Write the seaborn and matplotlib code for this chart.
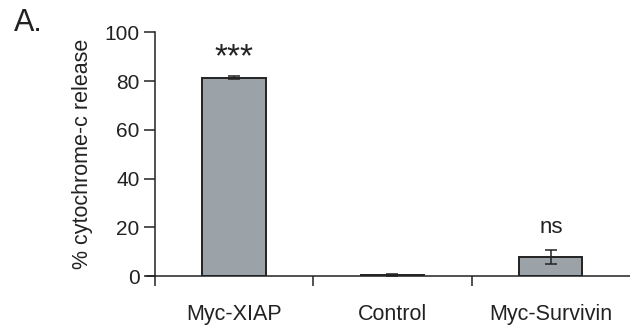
import matplotlib
matplotlib.use("Agg")
import matplotlib.pyplot as plt
import seaborn as sns
import pandas as pd

categories = ["Myc-XIAP", "Control", "Myc-Survivin"]
values = [81.4, 0.5, 7.8]
errors = [0.6, 0.5, 2.8]
annotations = ["***", "", "ns"]
annotation_y = [89.5, 0, 20.0]
yticks = [0, 20, 40, 60, 80, 100]

sns.set_style("ticks")
plt.rcParams["font.family"] = ["Liberation Sans", "DejaVu Sans"]

df = pd.DataFrame({"cat": categories, "val": values, "err": errors})

fig = plt.figure(figsize=(6.3, 3.3), dpi=100)
ax = fig.add_axes([0.246, 0.1636, 0.754, 0.7384])

sns.barplot(data=df, x="cat", y="val", ax=ax, color="#9ca3a8",
            edgecolor="#222222", linewidth=1.4, width=0.4, saturation=1,
            errorbar=None)
xs = list(range(len(categories)))
ax.errorbar(xs, df["val"], yerr=df["err"], fmt="none", ecolor="#222222",
            elinewidth=1.1, capsize=4, capthick=1.1)
for x, a, ay in zip(xs, annotations, annotation_y):
    if a:
        ax.text(x, ay, a, ha="center", va="center",
                fontsize=16 if a == "ns" else 24, color="#222222")

ax.set_xlim(-0.5, 2.5)
ax.set_ylim(0, 100)
ax.set_yticks(yticks)
ax.set_yticklabels([str(t) for t in yticks], fontsize=15, color="#222222")
ax.set_xticks([-0.5, 0.5, 1.5])
ax.set_xticklabels(["", "", ""])
ax.set_xticks(xs, minor=True)
ax.set_xticklabels(categories, minor=True, fontsize=15.5, color="#222222")
ax.tick_params(axis="x", which="minor", length=0, pad=20)
ax.tick_params(axis="x", which="major", length=7, width=1.1, color="#222222")
ax.tick_params(axis="y", length=8, width=1.1, color="#222222", pad=3)
ax.set_xlabel("")
ax.set_ylabel("% cytochrome-c release", fontsize=15.5, color="#222222", labelpad=8)
for s in ["top", "right"]:
    ax.spines[s].set_visible(False)
for s in ["left", "bottom"]:
    ax.spines[s].set_linewidth(1.1)
    ax.spines[s].set_color("#222222")
ax.spines["bottom"].set_bounds(-0.55, 2.5)

fig.text(0.022, 0.975, "A.", fontsize=22, color="#222222", va="top", ha="left")

fig.savefig("out.png", dpi=100)
